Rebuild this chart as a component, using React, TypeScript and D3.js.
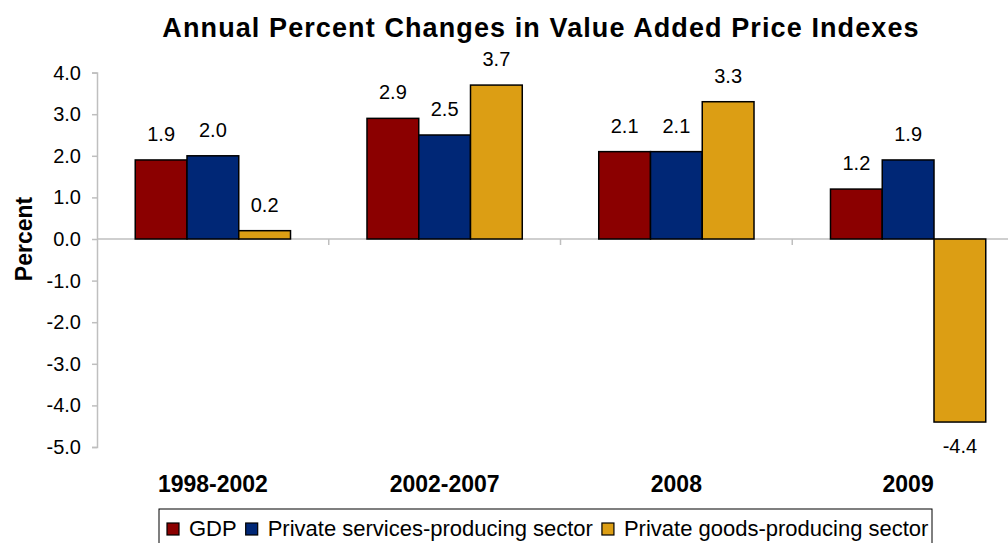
import React, { useRef, useEffect } from 'react';
import * as d3 from 'd3';

const categories = ['1998-2002', '2002-2007', '2008', '2009'];
const seriesNames = ['GDP', 'Private services-producing sector', 'Private goods-producing sector'];
const gdp = [1.9, 2.9, 2.1, 1.2];
const services = [2.0, 2.5, 2.1, 1.9];
const goods = [0.2, 3.7, 3.3, -4.4];
const yTicks = [4, 3, 2, 1, 0, -1, -2, -3, -4, -5];
const colors = ['#8b0000', '#002776', '#dc9e14'];

const App = () => {
  const svgRef = useRef<SVGSVGElement>(null);

  useEffect(() => {
    const svg = d3.select(svgRef.current);
    svg.selectAll('*').remove();
    const width = 1008;
    const font = 'Arial, "Liberation Sans", sans-serif';
    const left = 97, right = 1024, top = 72.6, bottom = 447;
    const fmt = (v: number) => v.toFixed(1); // plain hyphen for negatives

    const x0 = d3.scaleBand().domain(categories).range([left, right]).paddingInner(0.33).paddingOuter(0.165);
    const x1 = d3.scaleBand().domain(seriesNames).range([0, x0.bandwidth()]);
    const y = d3.scaleLinear().domain([-5, 4]).range([bottom, top]);

    // title
    svg.append('text').attr('x', 541).attr('y', 37).attr('text-anchor', 'middle')
      .attr('font-family', font).attr('font-size', 27).attr('font-weight', 'bold')
      .attr('letter-spacing', 1.1)
      .text('Annual Percent Changes in Value Added Price Indexes');

    svg.append('text').attr('transform', `translate(32,239) rotate(-90)`).attr('text-anchor', 'middle')
      .attr('font-family', font).attr('font-size', 23).attr('font-weight', 'bold').text('Percent');

    // y axis
    const yAxis = svg.append('g').attr('transform', `translate(${left},0)`)
      .call(d3.axisLeft(y).tickValues(yTicks).tickSize(5).tickPadding(11).tickFormat(d => fmt(+d)));
    yAxis.select('.domain').attr('stroke', '#bfbfbf').attr('stroke-width', 1.5);
    yAxis.selectAll('line').attr('stroke', '#bfbfbf').attr('stroke-width', 1.5);
    yAxis.selectAll('text').attr('font-family', font).attr('font-size', 20).attr('fill', '#000');

    // zero line + category ticks
    svg.append('line').attr('x1', left).attr('x2', width).attr('y1', y(0)).attr('y2', y(0))
      .attr('stroke', '#bfbfbf').attr('stroke-width', 1.5);
    const step = x0.step();
    categories.forEach((c, i) => {
      if (i === 0) return;
      const xx = (x0(c) as number) - step * 0.33 / 2;
      svg.append('line').attr('x1', xx).attr('x2', xx).attr('y1', y(0)).attr('y2', y(0) + 6)
        .attr('stroke', '#bfbfbf').attr('stroke-width', 1.5);
    });

    const series = [gdp, services, goods];
    series.forEach((vals, si) => {
      categories.forEach((c, ci) => {
        const v = vals[ci];
        const bx = (x0(c) as number) + (x1(seriesNames[si]) as number);
        const bw = x1.bandwidth();
        svg.append('rect').attr('x', bx).attr('width', bw)
          .attr('y', y(Math.max(0, v))).attr('height', Math.abs(y(v) - y(0)))
          .attr('fill', colors[si]).attr('stroke', '#000').attr('stroke-width', 1.5);
        svg.append('text').attr('x', bx + bw / 2)
          .attr('y', v >= 0 ? y(v) - 19 : y(v) + 31)
          .attr('text-anchor', 'middle').attr('font-family', font).attr('font-size', 20)
          .text(fmt(v));
      });
    });

    // category labels
    categories.forEach(c => {
      svg.append('text').attr('x', (x0(c) as number) + x0.bandwidth() / 2).attr('y', 492)
        .attr('text-anchor', 'middle').attr('font-family', font).attr('font-size', 23)
        .attr('font-weight', 'bold').text(c);
    });

    // legend
    svg.append('rect').attr('x', 159).attr('y', 509).attr('width', 773).attr('height', 45)
      .attr('fill', 'none').attr('stroke', '#000').attr('stroke-width', 1);
    let lx = 167;
    seriesNames.forEach((n, i) => {
      svg.append('rect').attr('x', lx).attr('y', 523).attr('width', 12).attr('height', 12)
        .attr('fill', colors[i]).attr('stroke', '#000').attr('stroke-width', 1.2);
      const t = svg.append('text').attr('x', lx + 22).attr('y', 535.5)
        .attr('font-family', font).attr('font-size', 22).text(n);
      const w = (t.node() as SVGTextElement).getComputedTextLength();
      lx += 22 + w + 9;
    });
  }, []);

  return <svg ref={svgRef} width={1008} height={543} style={{ position: 'absolute', left: 0, top: 0 }}></svg>;
};

export default App;
